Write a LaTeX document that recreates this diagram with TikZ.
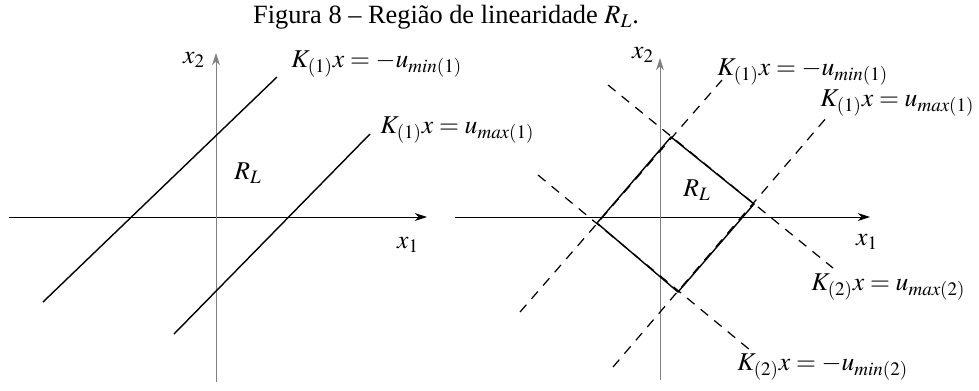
\documentclass[tikz,border=0pt]{standalone}
\usepackage{mathptmx}
\usepackage[no-math]{fontspec}
\setmainfont{Liberation Serif}
\usetikzlibrary{arrows.meta}
\begin{document}
\begin{tikzpicture}[x=0.02cm, y=-0.02cm,
    every node/.style={inner sep=0pt, font=\fontsize{14.6}{17}\selectfont},
    eixo/.style={line width=0.5pt, -{Stealth[length=7pt, width=4.5pt]}},
    reta/.style={line width=0.8pt},
    tracejada/.style={line width=0.7pt, dash pattern=on 5.5pt off 4.5pt}]
    \useasboundingbox (0,0) rectangle (979,390);

    % titulo
    \node (titulo) at (446,17) {\fontsize{15}{17}\selectfont Figura 8 -- Regi\~ao de linearidade $R_L$.};

    % painel esquerdo: eixos
    \draw[eixo] (9,217) -- (427,217);
    \draw[eixo, gray] (216,382) -- (216,53);
    \node (xa1) at (408,245) {$x_1$};
    \node (xa2) at (194,60) {$x_2$};

    % retas paralelas
    \draw[reta] (43,302) -- (277,77);
    \draw[reta] (174,334) -- (370,134);
    \node[anchor=west] (kmin) at (291,64) {$K_{(1)}x = -u_{min(1)}$};
    \node[anchor=west] (kmax) at (380,130) {$K_{(1)}x = u_{max(1)}$};
    \node (rl1) at (248,173) {$R_L$};

    % painel direito: eixos
    \draw[eixo] (455,217) -- (870,217);
    \draw[eixo, gray] (660,380) -- (660,58);
    \node (xb1) at (867,242) {$x_1$};
    \node (xb2) at (643,55) {$x_2$};

    % vertices da regiao
    \coordinate (topo) at (671,137);
    \coordinate (dir) at (754,204);
    \coordinate (base) at (678,292);
    \coordinate (esq) at (597,223);

    % retas tracejadas
    \draw[tracejada] (520,312) -- (722,80);
    \draw[tracejada] (613,367) -- (827,117);
    \draw[tracejada] (608,85) -- (833,268);
    \draw[tracejada] (538,175) -- (750,350);

    % regiao R_L
    \draw[reta] (topo) -- (dir) -- (base) -- (esq) -- cycle;
    \node (rl2) at (697,190) {$R_L$};

    \node[anchor=west] (k1min) at (717,72) {$K_{(1)}x = -u_{min(1)}$};
    \node[anchor=west] (k1max) at (820,103) {$K_{(1)}x = u_{max(1)}$};
    \node[anchor=west] (k2max) at (811,287) {$K_{(2)}x = u_{max(2)}$};
    \node[anchor=west] (k2min) at (737,367) {$K_{(2)}x = -u_{min(2)}$};
\end{tikzpicture}
\end{document}
